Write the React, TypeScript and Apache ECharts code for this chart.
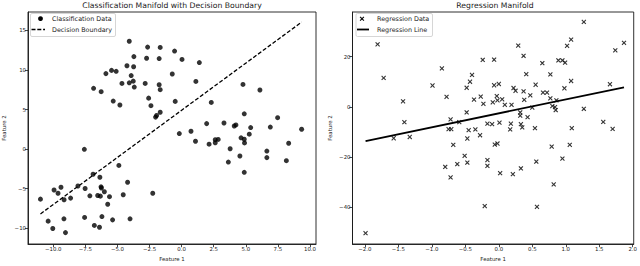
import React, { useEffect, useRef } from "react";
import * as echarts from "echarts";

const FONT = "DejaVu Sans";
const INK = "#1a1a1a";

// Left panel: classification data
const classPoints: number[][] = [
  [-4.08, 13.63], [-2.65, 12.89], [-1.67, 12.85], [-0.55, 12.39], [0.03, 11.33], [1.38, 10.94],
  [-2.73, 11.48], [-1.75, 11.44], [-3.72, 11.69], [-4.26, 10.53], [-3.74, 10.41], [-5.46, 9.95],
  [-5.1, 9.83], [-5.9, 9.54], [-3.93, 9.29], [-0.73, 9.49], [-3.77, 8.59], [-4.08, 8.38],
  [-4.65, 8.3], [-2.84, 8.3], [-1.75, 8.13], [1.11, 8.55], [-3.69, 7.84], [-1.67, 7.51],
  [-6.86, 7.68], [-6.27, 7.26], [-2.57, 6.44], [-5.33, 6.07], [-0.5, 6.03], [-4.81, 5.57],
  [-2.39, 5.49], [2.31, 5.9], [-1.67, 4.66], [-1.95, 4.25], [-2.03, 4.04],
  [4.78, 8.17], [6.1, 7.47], [4.88, 4.46], [7.48, 3.97], [1.95, 3.22], [3.3, 3.3],
  [4.1, 2.92], [4.23, 3.05], [5.38, 2.72], [6.91, 2.78], [9.35, 2.51], [0.73, 2.25],
  [-0.18, 1.96], [5.27, 1.88], [4.63, 1.42], [4.88, 1.24], [2.62, 1.19], [2.85, 1.22],
  [1.08, 0.99], [2.14, 0.62], [2.62, 0.8], [4.9, 0.78], [8.34, 0.74], [3.78, 0.04],
  [6.64, -0.25], [6.64, -1.08], [4.54, -0.87], [8.16, -1.47], [3.64, -1.64], [4.88, -2.94],
  [-7.58, -0.03], [-4.89, -2.07], [-6.9, -3.18], [-6.37, -3.56], [-4.21, -4.19], [-9.4, -4.83],
  [-8.08, -4.67], [-9.94, -5.17], [-9.63, -5.58], [-7.52, -4.98], [-6.28, -4.77], [-6.25, -4.92],
  [-6.02, -5.39], [-2.25, -5.58], [-4.55, -5.77], [-11.0, -6.33], [-9.16, -6.41], [-8.65, -6.2],
  [-7.15, -5.91], [-6.54, -5.87], [-6.33, -5.95], [-5.62, -6.02], [-5.76, -6.97], [-9.17, -8.82],
  [-7.56, -8.64], [-6.21, -8.53], [-5.38, -8.95], [-4.02, -8.82], [-10.4, -9.11], [-6.8, -9.65],
  [-6.4, -9.88], [-10.04, -10.04], [-9.05, -10.56],
];
const boundaryX = [-11.0, 9.35];
const boundaryY = [-8.2, 16.05];

// Right panel: regression data
const regressionPoints: number[][] = [
  [-1.81, 24.9], [-1.72, 11.5], [-1.43, 2.2], [-1.41, -6.1], [-0.99, 8.5], [-0.85, 15.3],
  [-0.78, 4.0], [-0.72, -5.0], [-0.59, -6.1], [-0.48, 7.6], [-0.43, 10.0], [-0.4, 12.7],
  [-0.37, 2.9], [-0.48, -2.2], [-0.24, 18.7], [-0.27, 4.1], [-0.23, 1.2], [-0.07, 18.8],
  [-0.07, 8.6], [0.0, 9.1], [-0.03, 4.3], [-0.09, 1.8], [-0.02, 2.6], [0.05, 3.0],
  [0.09, 0.8], [0.19, 0.8], [0.22, 7.5], [0.25, 6.4], [0.29, 24.4], [0.37, 20.3],
  [0.41, 13.0], [0.37, 6.2], [0.38, 2.8], [0.47, 4.6], [0.5, -0.3], [0.55, 8.8],
  [0.65, 17.4], [0.66, 5.7], [0.72, 5.7], [0.77, 3.4], [0.77, 12.9], [0.86, 2.6],
  [0.8, 0.3], [0.84, -0.1], [0.85, -1.3], [0.89, 18.5], [0.95, 18.5], [0.99, 17.6],
  [0.98, 7.4], [1.08, 10.3], [1.02, 24.3], [1.08, 26.8], [1.27, 33.8], [1.27, -0.8],
  [1.66, 9.0], [1.74, 22.5], [1.87, 25.5], [1.56, -6.0], [1.09, -8.5], [1.7, -8.8],
  [-0.75, -8.9], [-0.71, -8.9], [-0.45, -9.3], [-0.35, -9.0], [-0.17, -6.7], [-0.1, -6.9],
  [0.01, -6.3], [0.18, -6.7], [0.17, -9.0], [0.32, -2.2], [0.32, -3.5], [0.43, -4.1],
  [0.33, -6.9], [0.35, -8.2], [0.54, -8.5], [-1.99, -50.3], [-1.57, -12.5], [-1.33, -12.0],
  [-0.68, -15.1], [-0.8, -23.9], [-0.72, -28.1], [-0.62, -22.8], [-0.51, -19.5], [-0.47, -12.6],
  [-0.47, -22.2], [-0.28, -11.3], [-0.21, -39.5], [-0.17, -21.2], [-0.17, -23.5], [-0.06, -15.0],
  [-0.02, -14.6], [0.02, -26.4], [0.21, -26.8], [0.33, -24.5], [0.56, -21.8], [0.57, -39.8],
  [0.79, -15.8], [0.82, -30.9], [0.95, -20.6], [1.06, -15.1],
];
const regLineX = [-1.99, 1.87];
const regLineY = [-13.6, 7.8];

// Tick values
const leftXTicks = [-10, -7.5, -5, -2.5, 0, 2.5, 5, 7.5, 10];
const leftYTicks = [-10, -5, 0, 5, 10, 15];
const rightXTicks = [-2, -1.5, -1, -0.5, 0, 0.5, 1, 1.5, 2];
const rightYTicks = [-40, -20, 0, 20];

const fmt = (d: number) => (v: number) => {
  const s = Math.abs(v).toFixed(d);
  return v < 0 ? "\u2212" + s : s;
};

const X_MARK =
  "path://M0,1.6L1.6,0L5,3.4L8.4,0L10,1.6L6.6,5L10,8.4L8.4,10L5,6.6L1.6,10L0,8.4L3.4,5Z";

function makeAxis(
  gridIndex: number,
  min: number,
  max: number,
  ticks: number[],
  digits: number,
  name: string,
  nameGap: number
) {
  return {
    type: "value",
    gridIndex,
    min,
    max,
    name,
    nameLocation: "middle",
    nameGap,
    nameTextStyle: { fontFamily: FONT, fontSize: 5.4, color: INK },
    axisLine: { show: true, onZero: false, lineStyle: { color: INK, width: 0.9 } },
    axisTick: {
      show: true,
      inside: false,
      length: 3.2,
      customValues: ticks,
      lineStyle: { color: INK, width: 0.8 },
    },
    axisLabel: {
      show: true,
      customValues: ticks,
      formatter: fmt(digits),
      fontFamily: FONT,
      fontSize: 5.4,
      color: INK,
      margin: 2,
    },
    splitLine: { show: false },
  };
}

export default function App() {
  const ref = useRef<HTMLDivElement>(null);
  useEffect(() => {
    if (!ref.current) return;
    const chart = echarts.init(ref.current, undefined, { renderer: "svg" });
    const txt = (x: number, y: number, text: string, size: number, align = "left") => ({
      type: "text",
      x,
      y,
      z: 101,
      style: {
        text,
        fontFamily: FONT,
        fontSize: size,
        fill: INK,
        textAlign: align,
        align,
        textVerticalAlign: "middle",
        verticalAlign: "middle",
      },
    });
    chart.setOption({
      animation: false,
      backgroundColor: "#fff",
      grid: [
        { left: 28, top: 12, width: 288, height: 235.5, show: true, borderColor: INK, borderWidth: 0.9, backgroundColor: "transparent" },
        { left: 352.5, top: 12, width: 283.5, height: 235.5, show: true, borderColor: INK, borderWidth: 0.9, backgroundColor: "transparent" },
      ],
      xAxis: [
        makeAxis(0, -11.97, 10.47, leftXTicks, 1, "Feature 1", 12),
        makeAxis(1, -2.185, 2.015, rightXTicks, 1, "Feature 1", 12),
      ],
      yAxis: [
        makeAxis(0, -12.0, 17.33, leftYTicks, 0, "Feature 2", 21.5),
        makeAxis(1, -54.6, 37.76, rightYTicks, 0, "Feature 2", 20),
      ],
      series: [
        {
          type: "scatter",
          xAxisIndex: 0,
          yAxisIndex: 0,
          data: classPoints,
          symbol: "circle",
          symbolSize: 5,
          itemStyle: { color: "#000" },
        },
        {
          type: "line",
          xAxisIndex: 0,
          yAxisIndex: 0,
          data: boundaryX.map((x, i) => [x, boundaryY[i]]),
          symbol: "none",
          lineStyle: { color: "#000", width: 1.3, type: [4, 2] },
          z: 3,
        },
        {
          type: "scatter",
          xAxisIndex: 1,
          yAxisIndex: 1,
          data: regressionPoints,
          symbol: X_MARK,
          symbolSize: 4.8,
          itemStyle: { color: "#000" },
        },
        {
          type: "line",
          xAxisIndex: 1,
          yAxisIndex: 1,
          data: regLineX.map((x, i) => [x, regLineY[i]]),
          symbol: "none",
          lineStyle: { color: "#000", width: 1.8 },
          z: 3,
        },
      ],
      graphic: [
        txt(172, 5, "Classification Manifold with Decision Boundary", 7.7, "center"),
        txt(495, 5, "Regression Manifold", 7.7, "center"),
        // left legend
        {
          type: "rect",
          z: 100,
          shape: { x: 30.5, y: 13.5, width: 85, height: 23, r: 1.5 },
          style: { fill: "rgba(255,255,255,0.8)", stroke: "#cccccc", lineWidth: 0.8 },
        },
        { type: "circle", z: 101, shape: { cx: 40.5, cy: 18.7, r: 2.4 }, style: { fill: "#000" } },
        {
          type: "line",
          z: 101,
          shape: { x1: 31.5, y1: 29.5, x2: 45, y2: 29.5 },
          style: { stroke: "#000", lineWidth: 1.3, lineDash: [4, 1.8] },
        },
        txt(52, 18.7, "Classification Data", 6.4),
        txt(52, 29.5, "Decision Boundary", 6.4),
        // right legend
        {
          type: "rect",
          z: 100,
          shape: { x: 356, y: 13.5, width: 76.5, height: 23, r: 1.5 },
          style: { fill: "rgba(255,255,255,0.8)", stroke: "#cccccc", lineWidth: 0.8 },
        },
        { type: "line", z: 101, shape: { x1: 360.1, y1: 16.8, x2: 363.9, y2: 20.6 }, style: { stroke: "#000", lineWidth: 1.1 } },
        { type: "line", z: 101, shape: { x1: 360.1, y1: 20.6, x2: 363.9, y2: 16.8 }, style: { stroke: "#000", lineWidth: 1.1 } },
        {
          type: "line",
          z: 101,
          shape: { x1: 357, y1: 29.5, x2: 369, y2: 29.5 },
          style: { stroke: "#000", lineWidth: 1.8 },
        },
        txt(377, 18.7, "Regression Data", 6.4),
        txt(377, 29.5, "Regression Line", 6.4),
      ],
    });
    return () => chart.dispose();
  }, []);
  return (
    <div
      ref={ref}
      style={{ position: "fixed", left: 0, top: 0, width: 640, height: 266, background: "#fff" }}
    />
  );
}
